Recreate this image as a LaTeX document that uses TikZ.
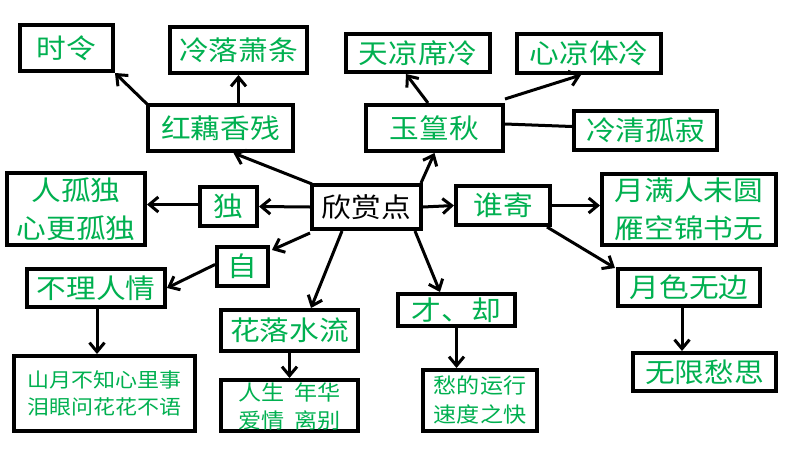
\documentclass[tikz,border=0pt]{standalone}
\usepackage{fontspec}
\newfontfamily\cjk[FakeStretch=1.1]{Noto Sans CJK SC}
\usetikzlibrary{arrows.meta,calc}
\definecolor{tgreen}{RGB}{0,176,80}
\tikzset{
  box/.style={draw=black, line width=4pt, inner sep=0pt, fill=white, align=center,
    text=tgreen, font=\cjk\fontsize{27}{38}\selectfont},
  smalltxt/.style={font=\cjk\fontsize{20}{27}\selectfont},
  midtxt/.style={font=\cjk\fontsize{21}{29}\selectfont},
  conn/.style={line width=3pt, -{Straight Barb[length=9pt,width=15pt]}},
  plainconn/.style={line width=3pt}
}
\begin{document}
\begin{tikzpicture}[x=1pt,y=-1pt]
\path[use as bounding box, fill=white] (0,0) rectangle (800,450);

\node[box, minimum width=93, minimum height=46] (shiling) at (66.5,48) {时令};
\node[box, minimum width=137, minimum height=46] (lengluo) at (238.5,50) {冷落萧条};
\node[box, minimum width=145, minimum height=46] (hongou) at (220.5,128) {红藕香残};
\node[box, minimum width=144, minimum height=38] (tianliang) at (418,53) {天凉席冷};
\node[box, minimum width=144, minimum height=39] (xinliang) at (589,53.5) {心凉体冷};
\node[box, minimum width=137, minimum height=46] (yuzhen) at (434.5,128) {玉篁秋};
\node[box, minimum width=143, minimum height=39] (lengqing) at (645.5,130.5) {冷清孤寂};
\node[box, minimum width=138, minimum height=72] (rengudu) at (76,209) {人孤独\\心更孤独};
\node[box, minimum width=57, minimum height=39] (du) at (228.5,206.5) {独};
\node[box, minimum width=109, minimum height=44, text=black] (center) at (366.5,207) {欣赏点};
\node[box, minimum width=51, minimum height=39] (zi) at (242.5,266.5) {自};
\node[box, minimum width=138, minimum height=38] (buli) at (96,288) {不理人情};
\node[box, smalltxt, minimum width=181, minimum height=75] (shanyue) at (104.5,393.5) {山月不知心里事\\泪眼问花花不语};
\node[box, minimum width=137, minimum height=41] (hualuo) at (289.5,330.5) {花落水流};
\node[box, midtxt, minimum width=137, minimum height=51, text depth=0pt] (rensheng) at (289.5,405.5) {人生\hspace{0.45em}年华\\[-1pt]爱情\hspace{0.45em}离别};
\node[box, minimum width=94, minimum height=39] (shuiji) at (503,205.5) {谁寄};
\node[box, minimum width=174, minimum height=71] (yueman) at (689,209.5) {月满人未圆\\雁空锦书无};
\node[box, minimum width=142, minimum height=37] (yuese) at (689,287.5) {月色无边};
\node[box, minimum width=143, minimum height=38] (wuxian) at (704.5,372) {无限愁思};
\node[box, minimum width=117, minimum height=32] (caique) at (456.5,310) {才、却};
\node[box, midtxt, minimum width=114, minimum height=61] (chou) at (480,400.5) {愁的运行\\速度之快};

\draw[conn] ([shift={(2,1)}]center.north west) -- ([xshift=13]hongou.south);
\draw[conn] ([shift={(2,2)}]hongou.north west) -- (shiling.south east);
\draw[conn] (hongou.north -| lengluo.south) -- (lengluo.south);
\draw[conn] ([xshift=-2]center.north east) -- (yuzhen.south);
\draw[conn] ([xshift=-6.5]yuzhen.north) -- ([xshift=-12]tianliang.south);
\draw[conn] ([yshift=4]yuzhen.north east) -- ([xshift=-8]xinliang.south);
\draw[plainconn] ([yshift=4]yuzhen.east) -- ([yshift=4]lengqing.west);
\draw[conn] (center.west) -- (du.east);
\draw[conn] ([yshift=2]du.west) -- ([yshift=2]du.west -| rengudu.east);
\draw[conn] ([yshift=-2]center.south west) -- ([shift={(2,5)}]zi.north east);
\draw[conn] ([yshift=2]zi.west) -- (buli.east);
\draw[conn] ([xshift=1]buli.south) -- ([xshift=1]buli.south |- shanyue.north);
\draw[conn] ([xshift=-24.5]center.south) -- ([xshift=21.5]hualuo.north);
\draw[conn] (hualuo.south) -- (rensheng.north);
\draw[conn] ([xshift=-8]center.south east) -- ([xshift=-16.5]caique.north);
\draw[conn] (caique.south) -- (caique.south |- chou.north);
\draw[conn] (center.east) -- (shuiji.west);
\draw[conn] (shuiji.east) -- (shuiji.east -| yueman.west);
\draw[conn] ([xshift=-5]shuiji.south east) -- ([shift={(-1,1)}]yuese.north west);
\draw[conn] ([xshift=-7]yuese.south) -- ([xshift=-7]yuese.south |- wuxian.north);
\end{tikzpicture}
\end{document}
